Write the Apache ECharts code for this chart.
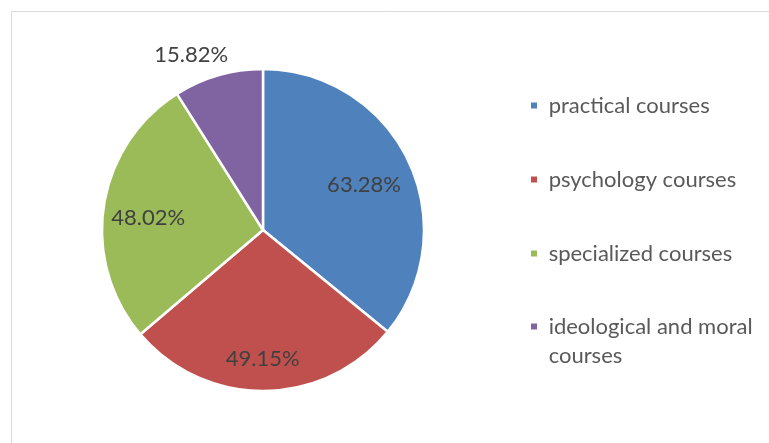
<!DOCTYPE html>
<html>
<head>
<meta charset="utf-8">
<script src="https://cdn.jsdelivr.net/npm/echarts@6/dist/echarts.min.js"></script>
<style>
  html, body { margin: 0; padding: 0; background: #ffffff; }
  #chart { width: 769px; height: 443px; }
</style>
</head>
<body>
<div id="chart"></div>
<script>
// ---- data ----
var categories = ['practical courses', 'psychology courses', 'specialized courses', 'ideological and moral courses'];
var legendLabels = [' practical courses', ' psychology courses', ' specialized courses', '\n ideological and moral\n courses'];
var values = [63.28, 49.15, 48.02, 15.82];
var colors = ['#4F81BD', '#C0504D', '#9BBB59', '#8064A2'];

// ---- label placement tweaks (layout, not data): distance from centre, angle shift in degrees ----
var labelRadius = [110.6, 129, 115.4, 189];
var labelAngleShift = [1.4, 0.7, -2.5, -6.2];

var FONT = 'Lato';
var FS = 22;
var LH = 29;
var center = [263, 230];

var pieData = categories.map(function (c, i) {
  return { name: c, value: values[i], itemStyle: { color: colors[i] } };
});

function legendFormatter(name) {
  return legendLabels[categories.indexOf(name)];
}
var legendBase = {
  orient: 'vertical',
  left: 529,
  padding: 0,
  itemWidth: 8,
  itemHeight: 8,
  icon: 'rect',
  selectedMode: false,
  formatter: legendFormatter,
  textStyle: { fontFamily: FONT, fontSize: FS, lineHeight: LH, color: '#595959' }
};

var chart = echarts.init(document.getElementById('chart'), null, { renderer: 'canvas' });
chart.setOption({
  backgroundColor: '#ffffff',
  animation: false,
  graphic: [{
    type: 'rect',
    shape: { x: 11.5, y: 11.5, width: 900, height: 600 },
    style: { fill: 'none', stroke: '#D9D9D9', lineWidth: 1 },
    silent: true,
    z: -10
  }],
  legend: [
    Object.assign({}, legendBase, { top: 91, itemGap: 74 - LH, data: categories.slice(0, 3) }),
    Object.assign({}, legendBase, { top: 283, data: categories.slice(3) })
  ],
  series: [{
    type: 'pie',
    name: 'courses',
    center: center,
    radius: [0, 161],
    startAngle: 90,
    clockwise: true,
    silent: true,
    labelLine: { show: false },
    itemStyle: { borderColor: '#ffffff', borderWidth: 2.5 },
    label: {
      show: true,
      position: 'inside',
      fontFamily: FONT,
      fontSize: FS,
      color: '#404040',
      formatter: function (p) { return p.value.toFixed(2) + '%'; }
    },
    labelLayout: function (p) {
      var r = p.labelRect;
      var lx = r.x + r.width / 2, ly = r.y + r.height / 2;
      var vx = lx - center[0], vy = ly - center[1];
      var ang = Math.atan2(vx, -vy) + labelAngleShift[p.dataIndex] * Math.PI / 180;
      var rad = labelRadius[p.dataIndex];
      var tx = center[0] + rad * Math.sin(ang);
      var ty = center[1] - rad * Math.cos(ang);
      return { dx: tx - lx, dy: ty - ly };
    },
    data: pieData
  }]
});
</script>
</body>
</html>
